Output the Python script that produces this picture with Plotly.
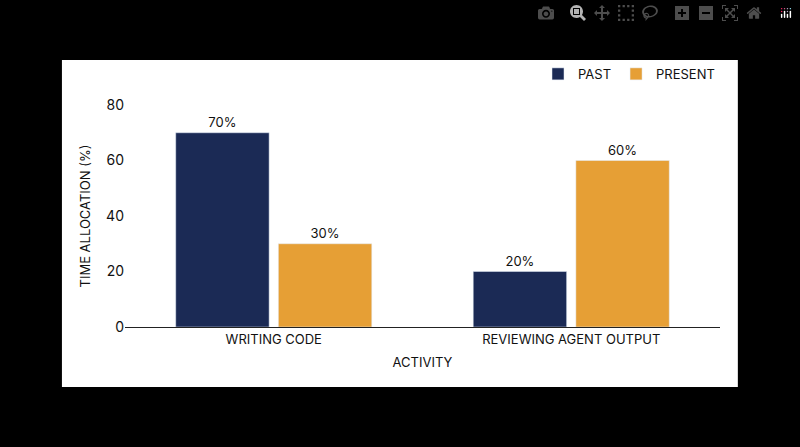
import plotly.graph_objects as go

activities = ["WRITING CODE", "REVIEWING AGENT OUTPUT"]
past = [70, 20]
present = [30, 60]

navy = "#1b2a55"
orange = "#e69f35"

fig = go.Figure()
fig.add_bar(x=activities, y=past, name="PAST", marker_color=navy,
            text=[f"{v}%" for v in past], textposition="outside", cliponaxis=False)
fig.add_bar(x=activities, y=present, name="PRESENT", marker_color=orange,
            text=[f"{v}%" for v in present], textposition="outside", cliponaxis=False)

# white card behind the chart
fig.add_shape(type="rect", xref="paper", yref="paper",
              x0=-0.106, x1=1.030, y0=-0.270, y1=1.203,
              fillcolor="white", line_width=0, layer="below")

fig.update_layout(
    width=800, height=447,
    paper_bgcolor="black", plot_bgcolor="white",
    margin=dict(l=125, r=80, t=105, b=120),
    font=dict(family="Inter", size=13, color="#111"),
    barmode="group", bargap=0.31, bargroupgap=0.09,
    showlegend=True,
    legend=dict(orientation="h", x=1.0, xanchor="right", y=1.14, yanchor="middle",
                bgcolor="rgba(0,0,0,0)", font=dict(size=13)),
    xaxis=dict(title=dict(text="ACTIVITY", standoff=12, font=dict(size=13)), showline=True,
               linecolor="#222", linewidth=1, ticks="", showgrid=False,
               tickfont=dict(size=13)),
    yaxis=dict(title=dict(text="TIME ALLOCATION (%)", standoff=12, font=dict(size=13)),
               range=[0, 80], tickvals=[0, 20, 40, 60, 80], showgrid=False,
               zeroline=False, showline=False, tickfont=dict(size=14)),
)

fig.write_html("out.html", post_script="document.body.style.margin='0';")
